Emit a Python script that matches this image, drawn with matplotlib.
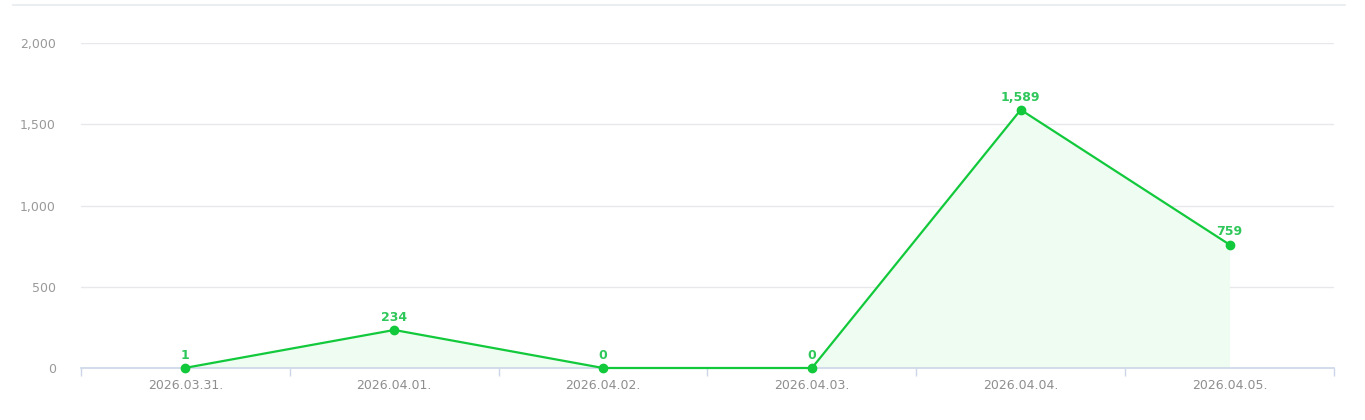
import matplotlib
matplotlib.use("Agg")
import matplotlib.pyplot as plt
from matplotlib.lines import Line2D
import numpy as np

categories = ["2026.03.31.", "2026.04.01.", "2026.04.02.", "2026.04.03.", "2026.04.04.", "2026.04.05."]
values = [1, 234, 0, 0, 1589, 759]
yticks = [0, 500, 1000, 1500, 2000]

W, H = 1365, 420
fig = plt.figure(figsize=(W / 100, H / 100), dpi=100)
x0, x1, yb, yt = 81, 1334, 368, 43
ax = fig.add_axes([x0 / W, 1 - yb / H, (x1 - x0) / W, (yb - yt) / H])

n = len(categories)
x = np.arange(n)
line_c = "#12c93c"
ax.fill_between(x, values, 0, color="#effcf1", zorder=1, linewidth=0)
ax.plot(x, values, color=line_c, lw=1.6, zorder=3, marker="o", markersize=6,
        markerfacecolor=line_c, markeredgecolor=line_c, clip_on=False)
for xi, v in zip(x, values):
    ax.annotate(f"{v:,}", (xi, v), xytext=(0, 4.5), textcoords="offset points",
                ha="center", va="bottom", fontsize=9, fontweight="bold",
                color="#2fc75a", zorder=4)

ax.set_xlim(-0.5, n - 0.5)
ax.set_ylim(0, 2000)
ax.set_yticks(yticks)
ax.set_yticklabels([f"{t:,}" for t in yticks])
ax.grid(axis="y", color="#e6e8ec", lw=1, zorder=0)
ax.set_axisbelow(True)

ax.set_xticks(x)
ax.set_xticklabels(categories)
ax.set_xticks(np.arange(n + 1) - 0.5, minor=True)
ax.tick_params(axis="x", which="major", length=0, pad=8, labelsize=9, labelcolor="#8e8e8e")
ax.tick_params(axis="x", which="minor", length=6, width=1, color="#ccd6e8")
ax.tick_params(axis="y", length=0, pad=18, labelsize=9, labelcolor="#999999")

for s in ["top", "right", "left"]:
    ax.spines[s].set_visible(False)
ax.spines["bottom"].set_color("#ccd6e8")
ax.spines["bottom"].set_linewidth(1.2)

fig.add_artist(Line2D([13 / W, 1345 / W], [1 - 5 / H, 1 - 5 / H], color="#e8ebef", lw=1.2))

fig.savefig("out.png", dpi=100)
